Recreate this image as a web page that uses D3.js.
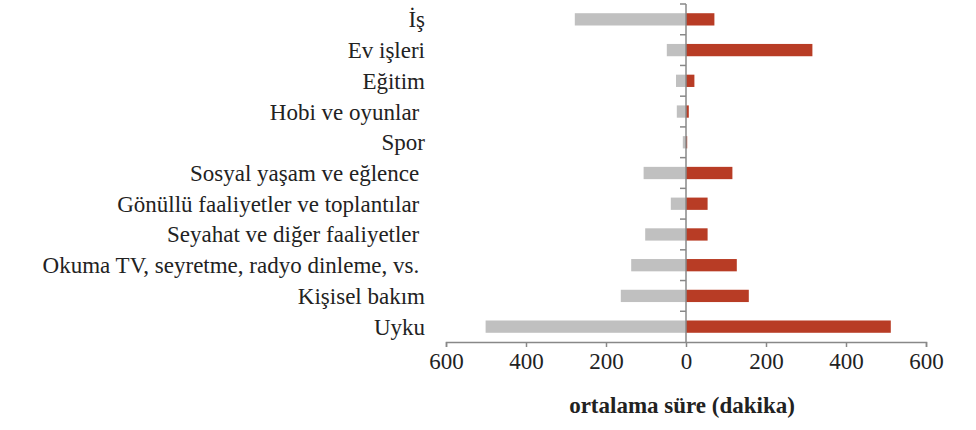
<!DOCTYPE html>
<html>
<head>
<meta charset="utf-8">
<script src="https://cdn.jsdelivr.net/npm/d3@7"></script>
</head>
<body style="margin:0">
<svg width="976" height="430" id="chart"></svg>
<script>
const categories = ["İş", "Ev işleri", "Eğitim", "Hobi ve oyunlar\u00A0", "Spor",
  "Sosyal yaşam ve eğlence\u00A0", "Gönüllü faaliyetler ve toplantılar\u00A0",
  "Seyahat ve diğer faaliyetler\u00A0", "Okuma TV, seyretme, radyo dinleme, vs.\u00A0",
  "Kişisel bakım", "Uyku"]
const leftValues = [278, 48, 25, 23, 8, 106, 38, 102, 137, 163, 501]
const rightValues = [71, 316, 21, 7, 3, 116, 54, 54, 127, 157, 512]
const tickValues = [-600, -400, -200, 0, 200, 400, 600]
const axisTitle = "ortalama süre (dakika)"

const PLOT = { LEFT: 446, RIGHT: 926, TOP: 4, BOTTOM: 342 }
const FONT = '"Liberation Serif"'

const svg = d3.select("#chart")

const x = d3.scaleLinear()
    .domain([-600, 600])
    .range([PLOT.LEFT, PLOT.RIGHT])

const y = d3.scaleBand()
    .domain(categories)
    .range([PLOT.TOP, PLOT.BOTTOM])
    .paddingInner(0.6)
    .paddingOuter(0.3)

// bars
svg.append("g").selectAll("rect")
    .data(categories)
    .enter().append("rect")
    .attr("x", (d, i) => x(-leftValues[i]))
    .attr("y", d => y(d))
    .attr("width", (d, i) => x(0) - x(-leftValues[i]))
    .attr("height", y.bandwidth())
    .attr("fill", "#c0c0c0")

svg.append("g").selectAll("rect")
    .data(categories)
    .enter().append("rect")
    .attr("x", x(0))
    .attr("y", d => y(d))
    .attr("width", (d, i) => x(rightValues[i]) - x(0))
    .attr("height", y.bandwidth())
    .attr("fill", "#b83c25")

// x axis
const xAxis = svg.append("g")
    .attr("transform", `translate(0, ${PLOT.BOTTOM})`)
    .call(d3.axisBottom(x)
        .tickValues(tickValues)
        .tickFormat(d => Math.abs(d))
        .tickSize(5)
        .tickSizeOuter(5)
        .tickPadding(6))
xAxis.attr("font-family", null).attr("font-size", null)
xAxis.select(".domain").attr("stroke", "#888").attr("stroke-width", 1.5)
xAxis.selectAll(".tick line").attr("stroke", "#888").attr("stroke-width", 1.5)
xAxis.selectAll(".tick text")
    .attr("fill", "#222")
    .style("font-family", FONT)
    .style("font-size", "23px")

// vertical axis at zero with ticks between categories
const step = y.step()
const boundaries = categories.map(d => y(d) - step * y.paddingOuter())
svg.append("g").selectAll("line")
    .data(boundaries)
    .enter().append("line")
    .attr("x1", x(0) - 6)
    .attr("x2", x(0))
    .attr("y1", d => d)
    .attr("y2", d => d)
    .attr("stroke", "#888")
    .attr("stroke-width", 1.5)

svg.append("line")
    .attr("x1", x(0)).attr("x2", x(0))
    .attr("y1", PLOT.TOP).attr("y2", PLOT.BOTTOM)
    .attr("stroke", "#888")
    .attr("stroke-width", 1.5)

// category labels
svg.append("g").selectAll("text")
    .data(categories)
    .enter().append("text")
    .attr("x", 425)
    .attr("y", d => y(d) + y.bandwidth() / 2 + 8)
    .attr("text-anchor", "end")
    .attr("fill", "#222")
    .style("font-family", FONT)
    .style("font-size", "23px")
    .text(d => d)

// axis title
svg.append("text")
    .attr("x", 682)
    .attr("y", 413)
    .attr("text-anchor", "middle")
    .attr("fill", "#222")
    .style("font-family", FONT)
    .style("font-size", "23px")
    .style("font-weight", "bold")
    .text(axisTitle)
</script>
</body>
</html>
